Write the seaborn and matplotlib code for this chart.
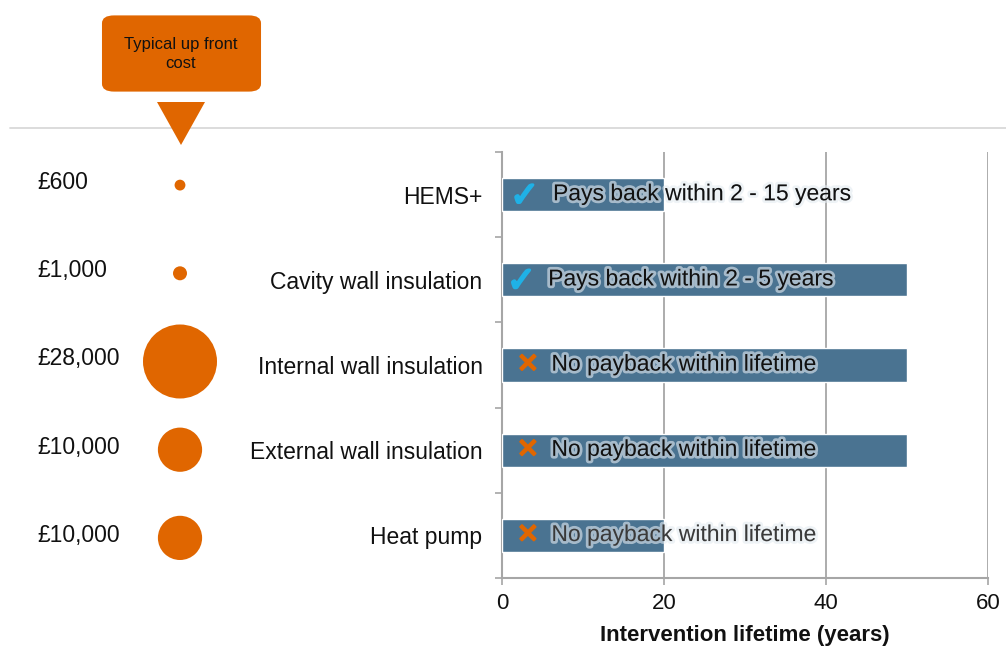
import matplotlib
matplotlib.use("Agg")
import matplotlib.pyplot as plt
import matplotlib.patheffects as pe
from matplotlib.patches import FancyBboxPatch, Polygon
from matplotlib.lines import Line2D
import seaborn as sns
import pandas as pd

# Data
interventions = ["HEMS+", "Cavity wall insulation", "Internal wall insulation",
                 "External wall insulation", "Heat pump"]
lifetime_years = [20, 50, 50, 50, 20]
upfront_cost = [600, 1000, 28000, 10000, 10000]
cost_labels = ["£600", "£1,000", "£28,000", "£10,000", "£10,000"]
payback_text = ["Pays back within 2 - 15 years", "Pays back within 2 - 5 years",
                "No payback within lifetime", "No payback within lifetime",
                "No payback within lifetime"]
pays_back = [True, True, False, False, False]
x_ticks = [0, 20, 40, 60]

BAR = "#4a7391"
ORANGE = "#e06600"
TICK_BLUE = "#1fb1e6"
GRID = "#a6a6a6"
TXT = "#111111"

sns.set_theme(style="white")
plt.rcParams["font.family"] = ["Liberation Sans", "DejaVu Sans"]

W, H = 1006, 650
fig = plt.figure(figsize=(W / 100, H / 100), dpi=100)

def fx(px):
    return px / W

def fy(py):
    return 1 - py / H

ax_top, ax_bot = 152, 578
ax_l, ax_r = 502, 988

# Main bar axes
ax = fig.add_axes([fx(ax_l), fy(ax_bot), fx(ax_r) - fx(ax_l), fy(ax_top) - fy(ax_bot)])
df = pd.DataFrame({"intervention": interventions, "lifetime": lifetime_years})
sns.barplot(data=df, x="lifetime", y="intervention", order=interventions,
            color=BAR, saturation=1, width=0.39, ax=ax, zorder=3)
ax.set_xlim(0, 60)
ax.set_ylim(len(interventions) - 0.5, -0.5)
ax.set_xticks(x_ticks)
ax.set_xticklabels([str(t) for t in x_ticks], fontsize=16)
ax.xaxis.grid(True, color=GRID, linewidth=1.3, zorder=0)
ax.set_axisbelow(True)
ax.set_xlabel("Intervention lifetime (years)", fontsize=16, fontweight="bold",
              labelpad=8, color=TXT)
ax.set_ylabel("")
ax.tick_params(axis="y", which="major", length=0, pad=14, labelsize=16.5, labelcolor=TXT)
ax.set_yticks([i - 0.5 for i in range(len(interventions) + 1)], minor=True)
ax.tick_params(axis="y", which="minor", length=5, width=1.2, color=GRID, left=True)
ax.tick_params(axis="x", which="major", length=5, width=1.2, color=GRID, bottom=True,
               labelcolor=TXT, pad=6)
for side in ["top", "right"]:
    ax.spines[side].set_visible(False)
for side in ["left", "bottom"]:
    ax.spines[side].set_color(GRID)
    ax.spines[side].set_linewidth(1.5)

glow = [pe.withStroke(linewidth=4, foreground="#e4ebf1", alpha=0.6)]
check_fx = [pe.withStroke(linewidth=1.6, foreground=TICK_BLUE)]
cross_fx = [pe.withStroke(linewidth=1.4, foreground=ORANGE)]
for i, (txt, ok) in enumerate(zip(payback_text, pays_back)):
    if ok:
        ax.text(2.8 if i == 0 else 2.4, i + 0.02, "\u2713", color=TICK_BLUE, fontsize=25,
                ha="center", va="center", family="DejaVu Sans", zorder=5,
                path_effects=check_fx)
        ax.text(6.3 if i == 0 else 5.7, i - 0.01, txt, color=TXT, fontsize=16.5, ha="left",
                va="center", zorder=5, path_effects=glow)
    else:
        ax.text(3.2, i, "\u2715", color=ORANGE, fontsize=19, ha="center",
                va="center", family="DejaVu Sans", zorder=5, path_effects=cross_fx)
        ax.text(6.1, i - 0.01, txt, color=TXT if i < 4 else "#3a3a3a", fontsize=16.5,
                ha="left", va="center", zorder=5, path_effects=glow)

# Left panel: up-front cost bubbles, x in pixel units
bub_top, bub_bot = 141, 582
axl = fig.add_axes([0, fy(bub_bot), fx(ax_l - 10), fy(bub_top) - fy(bub_bot)])
axl.set_xlim(0, ax_l - 10)
axl.set_ylim(len(interventions) - 0.5, -0.5)
axl.axis("off")
cdf = pd.DataFrame({"x": [180] * len(upfront_cost), "y": list(range(len(upfront_cost))),
                    "cost": upfront_cost})
max_area = (74 * 0.72) ** 2
sns.scatterplot(data=cdf, x="x", y="y", size="cost", sizes=(max_area * 600 / 28000, max_area),
                size_norm=(600, 28000), color=ORANGE, edgecolor="none", legend=False,
                ax=axl)
for i, lab in enumerate(cost_labels):
    axl.text(37, i - 0.03, lab, fontsize=16.5, ha="left", va="center", color=TXT)

# Separator line
fig.add_artist(Line2D([fx(10), fx(1006)], [fy(128), fy(128)], color="#d9d9d9",
                      linewidth=1.3, zorder=1))

# Callout
box = FancyBboxPatch((fx(106), fy(89)), fx(257) - fx(106), fy(18) - fy(89),
                     boxstyle="round,pad=0.004,rounding_size=0.012",
                     transform=fig.transFigure, facecolor=ORANGE, edgecolor="none", zorder=3)
fig.add_artist(box)
tri = Polygon([(fx(157), fy(102)), (fx(205), fy(102)), (fx(181), fy(145))],
              closed=True, transform=fig.transFigure, facecolor=ORANGE, edgecolor="none",
              zorder=3)
fig.add_artist(tri)
fig.text(fx(181), fy(54), "Typical up front\ncost", ha="center", va="center",
         fontsize=12, color=TXT, linespacing=1.25, zorder=4)

fig.savefig("out.png", dpi=100, facecolor="white")
